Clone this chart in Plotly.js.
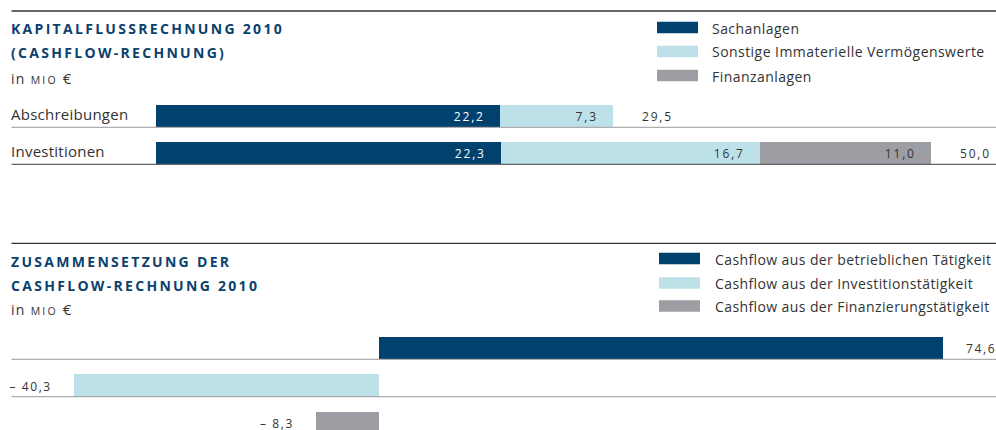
<!DOCTYPE html>
<html><head><meta charset="utf-8">
<script src="https://cdn.plot.ly/plotly-3.0.1.min.js"></script>
<style>html,body{margin:0;padding:0;background:#fff}#chart{width:996px;height:430px}</style>
<style id="ls"></style>
</head><body><div id="chart"></div>
<script>
// ---------- data ----------
const rows = ['Abschreibungen', 'Investitionen'];
const topSeries = ['Sachanlagen', 'Sonstige Immaterielle Vermögenswerte', 'Finanzanlagen'];
const sachanlagen = [22.2, 22.3];
const immaterielle = [7.3, 16.7];
const finanzanlagen = [null, 11.0];
const totals = [29.5, 50.0];

const flowCategories = ['Cashflow aus der betrieblichen Tätigkeit', 'Cashflow aus der Investitionstätigkeit', 'Cashflow aus der Finanzierungstätigkeit'];
const flowValues = [74.6, -40.3, -8.3];

const titleTop = ['KAPITALFLUSSRECHNUNG 2010', '(CASHFLOW-RECHNUNG)'];
const titleBottom = ['ZUSAMMENSETZUNG DER', 'CASHFLOW-RECHNUNG 2010'];
const unitText = 'in <span style="font-size:10.5px;letter-spacing:2.2px">MIO</span> <span style="font-size:15px">€</span>';

// ---------- style ----------
const W = 996, H = 430;
const COLORS = ['#00416E', '#BDE1E9', '#9D9EA3'];
const LABEL_COLORS = ['#FFFFFF', '#333333', '#333333'];
const TITLE = '#0B416D', TXT = '#333333';
const FONT = 'Open Sans, Noto Sans, sans-serif';
const fx = p => p / W, fy = p => 1 - p / H;
const fmt = v => (v < 0 ? '– ' : '') + Math.abs(v).toFixed(1).replace('.', ',');

const topValues = [sachanlagen, immaterielle, finanzanlagen];
const traces = topValues.map((vals, i) => ({
  type: 'bar', orientation: 'h', name: topSeries[i], x: vals, y: rows,
  xaxis: 'x', yaxis: 'y', width: 0.6, marker: {color: COLORS[i], line: {width: 0}},
  hoverinfo: 'skip'
}));
flowValues.forEach((v, i) => traces.push({
  type: 'bar', orientation: 'h', name: flowCategories[i], x: [v], y: [flowCategories[i]],
  xaxis: 'x2', yaxis: 'y2', width: 0.59, marker: {color: COLORS[i], line: {width: 0}},
  hoverinfo: 'skip'
}));

const ann = [], spacing = [];
function addText(o, ls) {
  ann.push(Object.assign({showarrow: false, borderpad: 0, borderwidth: 0}, o));
  spacing.push(ls || 0);
}
function paperText(text, x, y, font, ls, anchor) {
  addText({text, xref: 'paper', yref: 'paper', x: fx(x), y: fy(y), xanchor: anchor || 'left',
    yanchor: 'middle', align: anchor || 'left', font}, ls);
}
const titleFont = {family: FONT, size: 14, weight: 700, color: TITLE};
paperText(titleTop[0], 11, 28.7, titleFont, 2.3);
paperText(titleTop[1], 11, 52.8, titleFont, 2.3);
paperText(titleBottom[0], 11, 261.3, titleFont, 2.3);
paperText(titleBottom[1], 11, 285.3, titleFont, 2.3);
const unitFont = {family: FONT, size: 14, color: TXT};
paperText(unitText, 11, 78.3, unitFont, 1.3);
paperText(unitText, 11, 309.3, unitFont, 1.3);

// row labels
const rowY = [113.7, 150.5];
rows.forEach((r, i) => paperText(r, 11, rowY[i], {family: FONT, size: 15, color: TXT}, 0.25));

// legends
const shapes = [];
const legTopY = [27.5, 51.5, 75.5], legBotY = [258.5, 283, 306];
topSeries.forEach((s, i) => {
  shapes.push({type: 'rect', xref: 'paper', yref: 'paper', x0: fx(657), x1: fx(698),
    y0: fy(legTopY[i] - 5.8), y1: fy(legTopY[i] + 5.8), fillcolor: COLORS[i], line: {width: 0}});
  paperText(s, 712, legTopY[i] + 0.5, {family: FONT, size: 14, color: TXT}, 0.45);
});
flowCategories.forEach((s, i) => {
  shapes.push({type: 'rect', xref: 'paper', yref: 'paper', x0: fx(659), x1: fx(700),
    y0: fy(legBotY[i] - 5.8), y1: fy(legBotY[i] + 5.8), fillcolor: COLORS[i], line: {width: 0}});
  paperText(s, 715, legBotY[i] + 0.5, {family: FONT, size: 14, color: TXT}, 0.4);
});

// rules & row lines
[[11, '#333333', 1.3], [243.3, '#333333', 1.3], [127.3, '#9A9A9A', 1], [164.3, '#666666', 1.2],
 [359.3, '#9A9A9A', 1], [396.7, '#9A9A9A', 1]].forEach(([y, c, w]) =>
  shapes.push({type: 'line', xref: 'paper', yref: 'paper', x0: fx(11.5), x1: 1, y0: fy(y), y1: fy(y),
    line: {color: c, width: w}}));

// value labels, top (inside segments + totals)
const numFont = c => ({family: FONT, size: 12, color: c});
rows.forEach((r, ri) => {
  let cum = 0;
  topValues.forEach((vals, si) => {
    const v = vals[ri];
    if (v == null) return;
    cum += v;
    addText({text: fmt(v), xref: 'x', yref: 'y', x: cum, y: r, xanchor: 'right', align: 'right',
      yanchor: 'middle', xshift: -15, yshift: -1, font: numFont(LABEL_COLORS[si])}, 1.8);
  });
  addText({text: fmt(totals[ri]), xref: 'x', yref: 'y', x: totals[ri], y: r, xanchor: 'left', align: 'left',
    yanchor: 'middle', xshift: 29, yshift: -1, font: numFont(TXT)}, 1.8);
});
// value labels, bottom
flowValues.forEach((v, i) => {
  const pos = v >= 0;
  addText({text: fmt(v), xref: 'x2', yref: 'y2', x: v, y: flowCategories[i],
    xanchor: pos ? 'left' : 'right', align: pos ? 'left' : 'right', yanchor: 'middle',
    xshift: pos ? 23 : -22, yshift: i === 2 ? 0 : -1, font: numFont(TXT)}, 1.6);
});

const layout = {
  width: W, height: H, margin: {l: 0, r: 0, t: 0, b: 0},
  paper_bgcolor: '#fff', plot_bgcolor: 'rgba(0,0,0,0)',
  showlegend: false, barmode: 'stack', separators: ',.',
  font: {family: FONT, color: TXT},
  xaxis: {domain: [0, 1], range: [-10.032, 54.226], visible: false, fixedrange: true, anchor: 'y'},
  yaxis: {domain: [fy(171.3), fy(97.3)], type: 'category', categoryarray: rows, categoryorder: 'array',
    range: [1.5, -0.5], visible: false, fixedrange: true, anchor: 'x'},
  xaxis2: {domain: [0, 1], range: [-50.132, 81.614], visible: false, fixedrange: true, anchor: 'y2'},
  yaxis2: {domain: [0, fy(329)], type: 'category', categoryarray: flowCategories, categoryorder: 'array',
    range: [2.186, -0.5], visible: false, fixedrange: true, anchor: 'x2'},
  shapes, annotations: ann
};

document.getElementById('ls').textContent = spacing.map((s, i) =>
  s ? `g.annotation[data-index="${i}"] text{letter-spacing:${s}px}` : '').join('\n');

Plotly.newPlot('chart', traces, layout, {staticPlot: true, displayModeBar: false});
</script></body></html>
